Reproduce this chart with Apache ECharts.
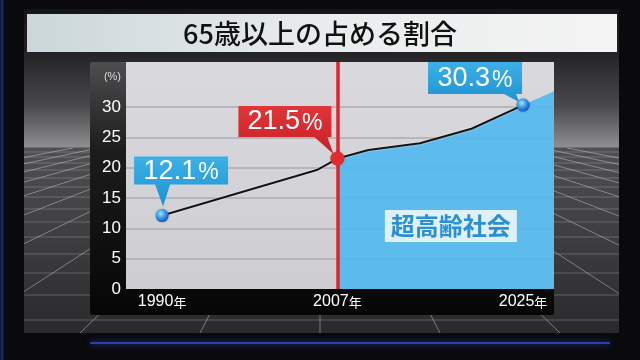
<!DOCTYPE html>
<html><head><meta charset="utf-8">
<script src="https://cdn.jsdelivr.net/npm/echarts@6/dist/echarts.min.js"></script>
<style>html,body{margin:0;padding:0;background:#0a0a0c}#c{width:640px;height:360px}</style>
</head><body><div id="c"></div>
<script>
// ---- data ----
const titleText = '65歳以上の占める割合';
const years = [1990, 2005, 2007, 2010, 2015, 2020, 2025];
const rates = [12.1, 19.6, 21.5, 22.9, 24.0, 26.4, 30.3];
const trendYears = [2028];
const trendRates = [32.6];
const keyYears = [1990, 2007, 2025];
const keyRates = [12.1, 21.5, 30.3];
const xTickYears = [1990, 2007, 2025];
const yTickMax = 30;
const boundaryYear = 2007;
const zoneLabel = '超高齢社会';
const yUnit = '(%)';
const xUnit = '年';

// ---- styles ----
const NUM_FONT = 'Liberation Sans';
const CJK_FONT = 'Noto Sans CJK JP';
const blueBox = {type:'linear',x:0,y:0,x2:0,y2:1,colorStops:[{offset:0,color:'#3cb0e6'},{offset:1,color:'#1d93d2'}]};
const redBox = {type:'linear',x:0,y:0,x2:0,y2:1,colorStops:[{offset:0,color:'#e0363a'},{offset:1,color:'#c81f25'}]};
const blueDot = {type:'radial',x:0.4,y:0.35,r:0.65,colorStops:[{offset:0,color:'#a8e6ff'},{offset:0.5,color:'#3b9cf0'},{offset:1,color:'#1358c0'}]};
const calloutStyles = [
  {path:'path://M0 0H94V28H36L29 50L21 28H0Z', size:[94,50], offset:[19,-34], labelOffset:[0,-11], color:blueBox},
  {path:'path://M0 0H93V31H89L95 48L76 31H0Z', size:[95,48], offset:[-51.5,-28.5], labelOffset:[-1,-8.5], color:redBox},
  {path:'path://M0 0H94V32H88L91 40L76 32H0Z', size:[94,40], offset:[-48,-23], labelOffset:[0,-4], color:blueBox}
];
const dotStyles = [
  {color:blueDot, size:13},
  {color:'#e32a2e', size:14},
  {color:blueDot, size:13}
];

// ---- decorations (background screen) ----
const deco = [];
deco.push({type:'rect', z:-10, shape:{x:24,y:9,width:595,height:324}, style:{fill:{type:'linear',x:0,y:0,x2:0,y2:1,colorStops:[
  {offset:0,color:'#151517'},{offset:0.14,color:'#242426'},{offset:0.3,color:'#4a4a4c'},{offset:0.425,color:'#8e8e90'},
  {offset:0.43,color:'#505052'},{offset:0.7,color:'#3e3e40'},{offset:1,color:'#2a2a2c'}]}}});
[152,157,163,170,178,187,197,209,222,237,254,273,295,320].forEach(y=>{
  deco.push({type:'line', z:-9, shape:{x1:24,y1:y,x2:619,y2:y}, style:{stroke:'rgba(185,185,190,0.35)',lineWidth:1}});
});
(function(){
  const V=[320,100], yTop=148, yBot=333, L=24, R=619;
  for(let k=-10;k<=10;k++){
    const bx=320+k*120;
    const t0=(yTop-V[1])/(yBot-V[1]);
    let t1=1;
    if(bx<L){t1=Math.min(1,(L-V[0])/(bx-V[0]));}
    if(bx>R){t1=Math.min(1,(R-V[0])/(bx-V[0]));}
    if(t1<=t0) continue;
    const p=t=>[V[0]+t*(bx-V[0]), V[1]+t*(yBot-V[1])];
    const a=p(t0), b=p(t1);
    deco.push({type:'line', z:-9, shape:{x1:a[0],y1:a[1],x2:b[0],y2:b[1]}, style:{stroke:'rgba(200,200,205,0.5)',lineWidth:1}});
  }
})();
deco.push({type:'line', z:-9, shape:{x1:90,y1:343,x2:610,y2:343}, style:{stroke:'rgba(50,80,200,0.75)',lineWidth:2,shadowBlur:6,shadowColor:'#3050ff'}});
deco.push({type:'line', z:-9, shape:{x1:2,y1:0,x2:2,y2:360}, style:{stroke:'rgba(40,70,190,0.5)',lineWidth:3}});
deco.push({type:'rect', z:-5, shape:{x:90,y:62,width:464,height:253,r:2}, style:{fill:{type:'linear',x:0,y:0,x2:0,y2:1,colorStops:[
  {offset:0,color:'#4e4e50'},{offset:0.35,color:'#1c1c1d'},{offset:1,color:'#060606'}]}}});
deco.push({type:'rect', z:5, shape:{x:27,y:14,width:590,height:38}, style:{fill:{type:'linear',x:0,y:0,x2:1,y2:0,colorStops:[
  {offset:0,color:'#cbd7da'},{offset:0.5,color:'#e9eced'},{offset:1,color:'#f4f4f4'}]}}});
deco.push({type:'text', z:6, x:320, y:34, style:{text:titleText, align:'center', verticalAlign:'middle', fontSize:27, fontFamily:CJK_FONT, fontWeight:500, fill:'#111'}});

// ---- chart ----
const lineData = years.map((y,i)=>[y,rates[i]]);
const areaData = lineData.filter(d=>d[0]>=boundaryYear).concat(trendYears.map((y,i)=>[y,trendRates[i]]));
const gridLineColor = '#abacb2';

const chart = echarts.init(document.getElementById('c'), null, {renderer:'canvas'});
chart.setOption({
  backgroundColor:'#0a0a0c',
  animation:false,
  graphic:{elements:deco},
  grid:{left:126, right:86, top:62, bottom:71, show:true, borderWidth:0, outerBoundsMode:'none',
    backgroundColor:{type:'linear',x:0,y:0,x2:0,y2:1,colorStops:[{offset:0,color:'#dadade'},{offset:1,color:'#cdcdd2'}]}},
  xAxis:{type:'value', min:1986.5, max:2028,
    axisLine:{show:false}, axisTick:{show:false}, splitLine:{show:false},
    axisLabel:{customValues:xTickYears, margin:5,
      formatter:v=>'{d|'+v+'}{u|'+xUnit+'}',
      rich:{d:{fontSize:16,color:'#fff',fontFamily:NUM_FONT}, u:{fontSize:13,color:'#fff',fontFamily:CJK_FONT}}}},
  yAxis:{type:'value', min:0, max:37.4, interval:5,
    axisLine:{show:false}, axisTick:{show:false},
    splitLine:{show:true, showMinLine:false, showMaxLine:false,
      lineStyle:{color:[gridLineColor,gridLineColor,gridLineColor,gridLineColor,gridLineColor,gridLineColor,'rgba(0,0,0,0)','rgba(0,0,0,0)'], width:1.5}},
    axisLabel:{margin:5, color:'#fff', fontSize:17, fontFamily:NUM_FONT,
      formatter:v=> v<=yTickMax ? String(v) : (v===35 ? '{u|'+yUnit+'}' : ''),
      rich:{u:{fontSize:11,color:'#dcdcdc',fontFamily:NUM_FONT}}}},
  series:[
    {type:'line', name:'area', data:areaData, symbol:'none', z:2, silent:true,
      lineStyle:{width:0}, areaStyle:{color:'#50b9ee', opacity:0.9},
      markLine:{silent:true, symbol:['none','none'], label:{show:false},
        lineStyle:{color:'#e3232b', width:3.5, type:'solid'}, data:[{xAxis:boundaryYear}]},
      markPoint:{silent:true, symbol:'rect', symbolSize:[1,1], itemStyle:{color:'rgba(0,0,0,0)'},
        label:{show:true, position:'inside', formatter:zoneLabel, color:'#2c8fd2', fontSize:24, fontWeight:'bold',
          fontFamily:CJK_FONT, lineHeight:26, backgroundColor:'rgba(236,246,251,0.9)', padding:[3,6]},
        data:[{coord:[2018,10.4]}]}},
    {type:'line', name:'rate', data:lineData, symbol:'none', z:3, silent:true,
      lineStyle:{color:'#141414', width:2, shadowColor:'rgba(255,255,255,0.7)', shadowBlur:2}},
    {type:'scatter', name:'callouts', z:4, silent:true,
      data:keyYears.map((y,i)=>({value:[y,keyRates[i]], symbol:calloutStyles[i].path, symbolSize:calloutStyles[i].size,
        symbolOffset:calloutStyles[i].offset, itemStyle:{color:calloutStyles[i].color, opacity:1},
        label:{show:true, position:'inside', offset:calloutStyles[i].labelOffset,
          formatter:p=>'{a|'+p.value[1].toFixed(1)+'}{b|%}',
          rich:{a:{fontSize:27,color:'#fff',fontFamily:NUM_FONT,verticalAlign:'bottom',lineHeight:28},
                b:{fontSize:23,color:'#fff',fontFamily:NUM_FONT,verticalAlign:'bottom',lineHeight:26,padding:[0,0,0,2]}}}}))},
    {type:'scatter', name:'points', z:5, silent:true,
      data:keyYears.map((y,i)=>({value:[y,keyRates[i]], symbolSize:dotStyles[i].size,
        itemStyle:{color:dotStyles[i].color, opacity:1, shadowColor:'rgba(0,0,0,0.3)', shadowBlur:2}}))}
  ]
});
</script></body></html>
